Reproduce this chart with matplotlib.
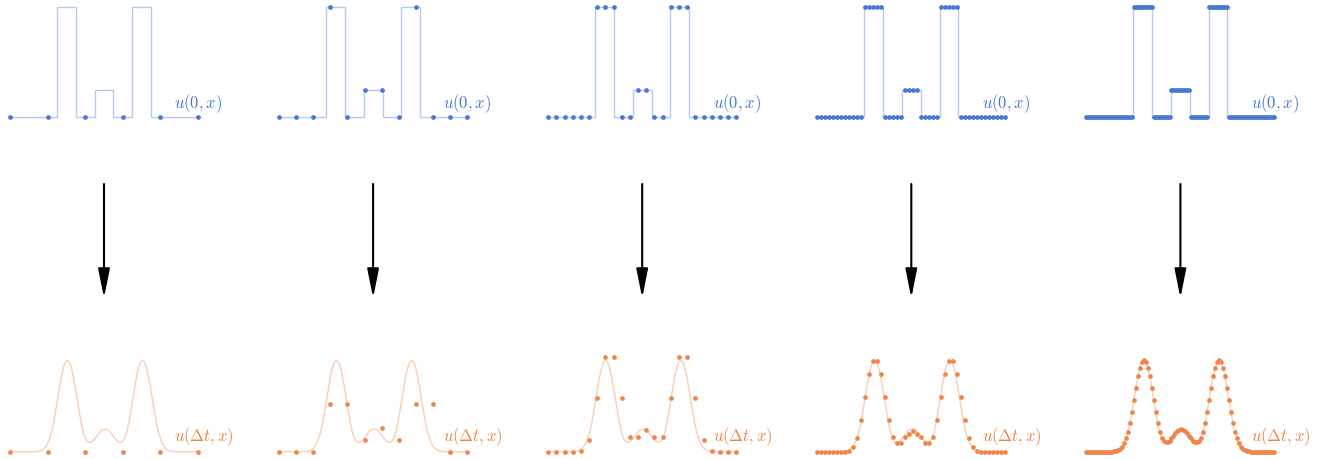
import numpy as np
import matplotlib.pyplot as plt
from matplotlib.patches import FancyArrowPatch

plt.rcParams['mathtext.fontset'] = 'cm'

# initial condition: piecewise constant profile
step_edges = [0.0, 0.25, 0.35, 0.45, 0.55, 0.65, 0.75, 1.0]
step_levels = [0, 1, 0, 0.25, 0, 1, 0]

# grid sizes for each column
grid_sizes = [6, 12, 24, 48, 96]

# sampled initial condition on each grid
u0_6 = [0, 0, 0, 0, 0, 0]
u0_12 = [0, 0, 0, 1, 0, 0.25, 0.25, 0, 1, 0, 0, 0]
u0_24 = [0] * 6 + [1] * 3 + [0] * 2 + [0.25] * 2 + [0] * 2 + [1] * 3 + [0] * 6
u0_48 = [0] * 12 + [1] * 5 + [0] * 5 + [0.25] * 4 + [0] * 5 + [1] * 5 + [0] * 12
u0_96 = [0] * 24 + [1] * 10 + [0] * 9 + [0.25] * 10 + [0] * 9 + [1] * 10 + [0] * 24

# solution after one step on each grid
udt_6 = [0, 0, 0, 0, 0, 0]
udt_12 = [0, 0, 0, 0.43, 0.43, 0.11, 0.217, 0.11, 0.43, 0.43, 0, 0]
udt_24 = [0, 0, 0, 0, 0.01, 0.11, 0.485, 0.856, 0.856, 0.485, 0.13, 0.13,
          0.193, 0.13, 0.13, 0.485, 0.856, 0.856, 0.485, 0.11, 0.01, 0, 0, 0]
udt_48 = [0, 0, 0, 0, 0, 0, 0, 0, 0.005, 0.045, 0.127, 0.286,
          0.491, 0.699, 0.823, 0.823, 0.699, 0.491, 0.286, 0.136, 0.075, 0.081, 0.13, 0.163,
          0.187, 0.163, 0.13, 0.081, 0.075, 0.136, 0.286, 0.491, 0.699, 0.823, 0.823, 0.699,
          0.491, 0.286, 0.127, 0.045, 0.005, 0, 0, 0, 0, 0, 0, 0]
udt_96 = [0, 0, 0, 0, 0, 0, 0, 0, 0, 0, 0, 0,
          0, 0.001, 0.003, 0.006, 0.013, 0.025, 0.045, 0.075, 0.12, 0.18, 0.26, 0.36,
          0.47, 0.58, 0.68, 0.76, 0.81, 0.825, 0.81, 0.76, 0.68, 0.58, 0.47, 0.36,
          0.26, 0.18, 0.125, 0.095, 0.085, 0.088, 0.10, 0.12, 0.145, 0.17, 0.19, 0.20,
          0.205, 0.20, 0.19, 0.17, 0.145, 0.12, 0.10, 0.088, 0.085, 0.095, 0.125, 0.18,
          0.26, 0.36, 0.47, 0.58, 0.68, 0.76, 0.81, 0.825, 0.81, 0.76, 0.68, 0.58,
          0.47, 0.36, 0.26, 0.18, 0.12, 0.075, 0.045, 0.025, 0.013, 0.006, 0.003, 0.001,
          0, 0, 0, 0, 0, 0, 0, 0, 0, 0, 0, 0]

u0_all = [u0_6, u0_12, u0_24, u0_48, u0_96]
udt_all = [udt_6, udt_12, udt_24, udt_48, udt_96]

# reference smooth solution (same for every column)
x_fine = np.linspace(0, 1, len(udt_96))
u_fine = udt_96

blue = '#4878d0'
orange = '#ee854a'

W, H = 1329, 459
fig = plt.figure(figsize=(W / 100, H / 100), dpi=100)

for c, n in enumerate(grid_sizes):
    left = 10 + 269.1 * c
    x = np.linspace(0, 1, n)

    # top row: initial condition
    ax = fig.add_axes([left / W, 1 - 117.3 / H, 188 / W, 110.6 / H])
    ax.stairs(step_levels, step_edges, baseline=None, color=blue, alpha=0.4, lw=1.0,
              clip_on=False)
    ax.plot(x, u0_all[c], 'o', color=blue, ms=3.4, mew=0, clip_on=False)
    ax.text(0.874, 0.125, r'$u(0,x)$', color=blue, fontsize=12, va='center', ha='left')
    ax.set_xlim(0, 1)
    ax.set_ylim(0, 1)
    ax.axis('off')

    # bottom row: solution after dt
    ax = fig.add_axes([left / W, 1 - 451.7 / H, 188 / W, 110.6 / H])
    ax.plot(x_fine, u_fine, color=orange, alpha=0.4, lw=1.0, clip_on=False)
    ax.plot(x, udt_all[c], 'o', color=orange, ms=3.4, mew=0, clip_on=False)
    ax.text(0.874, 0.136, r'$u(\Delta t,x)$', color=orange, fontsize=12, va='center', ha='left')
    ax.set_xlim(0, 1)
    ax.set_ylim(0, 1)
    ax.axis('off')

    # arrow between rows
    xa = (left + 94) / W
    arr = FancyArrowPatch((xa, 1 - 184 / H), (xa, 1 - 298 / H), transform=fig.transFigure,
                          arrowstyle='-|>,head_length=0.8,head_width=0.16',
                          mutation_scale=22, lw=1.5, color='black', shrinkA=0, shrinkB=0)
    fig.add_artist(arr)

fig.savefig('out.png', dpi=100)
